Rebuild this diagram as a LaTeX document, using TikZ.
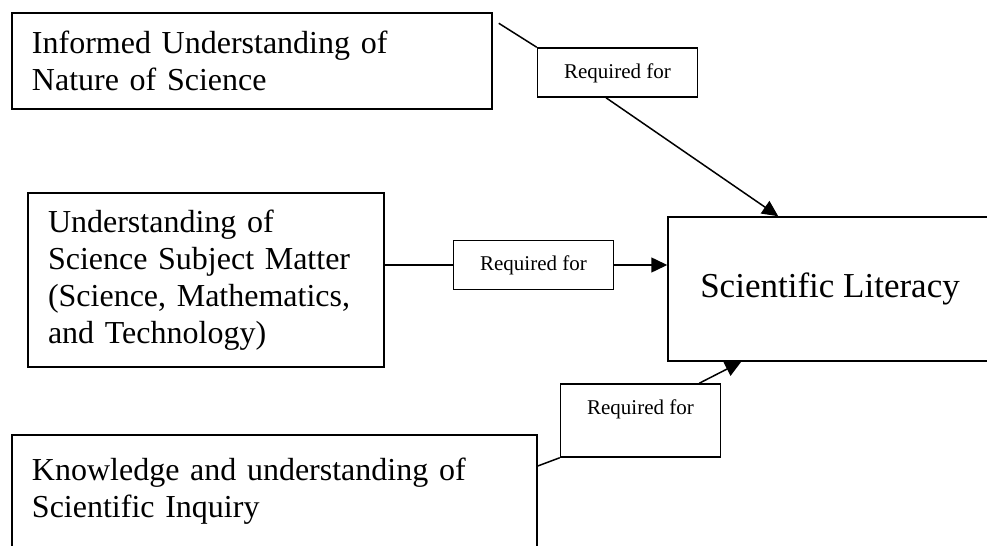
\documentclass[tikz,border=0pt]{standalone}
\usepackage{fontspec}
\setmainfont{Liberation Serif}
\usetikzlibrary{arrows.meta, positioning}

\begin{document}
\begin{tikzpicture}[
      x = 0.5pt, y = -0.5pt,
      >={Triangle[length=8pt, width=7.5pt]},
      line width = 0.75pt,
      topic/.style={
        draw,
        inner xsep = 10pt,
        inner ysep = 0pt,
        align = left,
        font = \fontsize{16}{18.5}\selectfont,
      },
      reqbox/.style={
        draw,
        inner sep = 0pt,
        minimum width = 80pt,
        text height = 15pt,
        text depth = 9.5pt,
        font = \fontsize{10.5}{12}\selectfont,
      },
    ]
    \useasboundingbox (0,0) rectangle (987,546);
    \clip (0,0) rectangle (987,546);
    \node[topic, text width = 220pt, minimum height = 48pt] (nature) at (252,61)
      {Informed Understanding of\\Nature of Science};
    \node[topic, text width = 158pt, minimum height = 87pt] (subject) at (206,280)
      {Understanding of\\Science Subject Matter\\(Science, Mathematics,\\and Technology)};
    \node[topic, text width = 242.5pt, minimum height = 56pt] (inquiry) at (274.5,491)
      {Knowledge and understanding of\\Scientific Inquiry};
    \node[reqbox, right = 22pt of nature, yshift = -5.75pt] (req1) {Required for};
    \node[reqbox, right = 34pt of subject, yshift = 7.5pt] (req2) {Required for};
    \node[reqbox, right = 11pt of inquiry, yshift = 35.25pt, text depth = 21.5pt] (req3) {Required for};
    \node[draw, minimum width = 162pt, minimum height = 72pt,
      font = \fontsize{17.5}{20}\selectfont, right = 26.5pt of req2, yshift = -12pt] (lit)
      {Scientific Literacy};
    \draw (nature.north east) ++(3pt,-5.5pt) -- (req1.north west);
    \draw[->] ([xshift=-5.75pt]req1.south) -- ([xshift=55.5pt]lit.north west);
    \draw (subject.east |- req2.west) -- (req2.west);
    \draw[->] (req2.east) -- (req2.east -| lit.west);
    \draw ([yshift=12.5pt]inquiry.east) -- (req3.south west);
    \draw[->] ([xshift=-11pt]req3.north east) -- ([xshift=37pt]lit.south west);
  \end{tikzpicture}
\end{document}
